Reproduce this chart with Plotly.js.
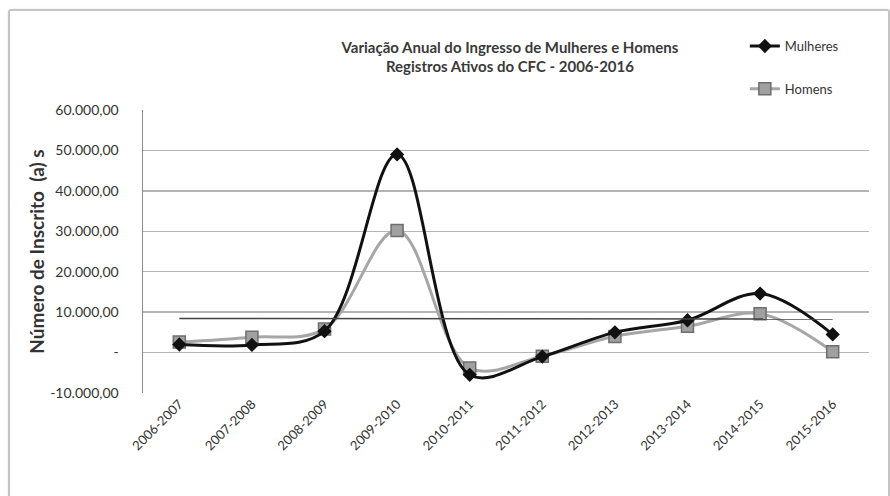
<!DOCTYPE html>
<html>
<head>
<meta charset="utf-8">
<script src="https://cdn.plot.ly/plotly-3.0.1.min.js"></script>
<style>
html,body{margin:0;padding:0;background:#fff;}
#wrap{position:relative;width:890px;height:496px;overflow:hidden;}
#chart{width:890px;height:496px;}
#frame{position:absolute;left:8px;top:9px;width:878px;height:520px;border:2px solid #c4c4c4;border-radius:3px;box-shadow:1px 1px 3px #bbb;pointer-events:none;}
</style>
</head>
<body>
<div id="wrap"><div id="chart"></div><div id="frame"></div></div>
<script>
const categories = ["2006-2007","2007-2008","2008-2009","2009-2010","2010-2011","2011-2012","2012-2013","2013-2014","2014-2015","2015-2016"];
const mulheres = [2000, 1900, 5300, 49000, -5500, -1000, 5000, 8000, 14600, 4500];
const homens = [2600, 3800, 5800, 30200, -3800, -900, 4000, 6500, 9600, 200];
const yTickVals = [-10000, 0, 10000, 20000, 30000, 40000, 50000, 60000];
const yTickText = ["-10.000,00", "-", "10.000,00", "20.000,00", "30.000,00", "40.000,00", "50.000,00", "60.000,00"];

// linear trendline of Mulheres (least squares)
const n = mulheres.length;
const xs = mulheres.map((_, i) => i);
const mx = xs.reduce((a, b) => a + b, 0) / n;
const my = mulheres.reduce((a, b) => a + b, 0) / n;
let sxy = 0, sxx = 0;
xs.forEach((x, i) => { sxy += (x - mx) * (mulheres[i] - my); sxx += (x - mx) * (x - mx); });
const slope = sxy / sxx, icpt = my - slope * mx;
const trendX = [categories[0], categories[n - 1]];
const trendY = [icpt, icpt + slope * (n - 1)];

const font = "Lato, 'Open Sans', sans-serif";

const traces = [
  {x: categories, y: homens, name: "Homens", mode: "lines+markers",
   line: {color: "#a6a6a6", width: 3, shape: "spline", smoothing: 1},
   marker: {symbol: "square", size: 12, color: "#a0a0a0", line: {color: "#6e6e6e", width: 1.5}},
   legend: "legend2"},
  {x: categories, y: mulheres, name: "Mulheres", mode: "lines+markers",
   line: {color: "#111", width: 3, shape: "spline", smoothing: 1},
   marker: {symbol: "diamond", size: 11, color: "#111"}, legend: "legend"},
  {x: trendX, y: trendY, mode: "lines", line: {color: "#444", width: 1.5}, showlegend: false, hoverinfo: "skip"}
];

const layout = {
  width: 890, height: 496,
  margin: {l: 143, r: 21, t: 110, b: 103},
  paper_bgcolor: "#fff", plot_bgcolor: "#fff",
  font: {family: font, color: "#333", size: 12},
  title: {text: "<b>Variação Anual do Ingresso de Mulheres e Homens<br>Registros Ativos do CFC - 2006-2016</b>",
          font: {family: font, size: 15, color: "#3a3a3a"}, x: 0.573, xanchor: "center",
          yref: "container", y: 0.894, yanchor: "top"},
  xaxis: {type: "category", categoryorder: "array", categoryarray: categories, range: [-0.5, 9.5],
          tickangle: -45, showgrid: false, zeroline: false,
          showline: false, ticks: "", tickfont: {family: font, size: 13, color: "#333"}},
  yaxis: {range: [-10000, 60000], tickvals: yTickVals, ticktext: yTickText, showgrid: true,
          gridcolor: "#b4b4b4", gridwidth: 1.5, zeroline: false, showline: true, linecolor: "#8c8c8c", linewidth: 1.5,
          ticks: "outside", ticklen: 4, tickcolor: "#ffffff", ticklabelstandoff: 16,
          tickfont: {family: font, size: 14, color: "#333"},
          title: {text: "<b>Número de Inscrito  (a) s</b>", font: {family: font, size: 19, color: "#333"}, standoff: 0}},
  legend: {x: 0.829, y: 1.279, xanchor: "left", yanchor: "top", bgcolor: "rgba(0,0,0,0)",
           font: {family: font, size: 13, color: "#333"}},
  legend2: {x: 0.829, y: 1.128, xanchor: "left", yanchor: "top", bgcolor: "rgba(0,0,0,0)",
           font: {family: font, size: 13, color: "#333"}}
};

Plotly.newPlot("chart", traces, layout, {displayModeBar: false, staticPlot: true});
</script>
</body>
</html>
